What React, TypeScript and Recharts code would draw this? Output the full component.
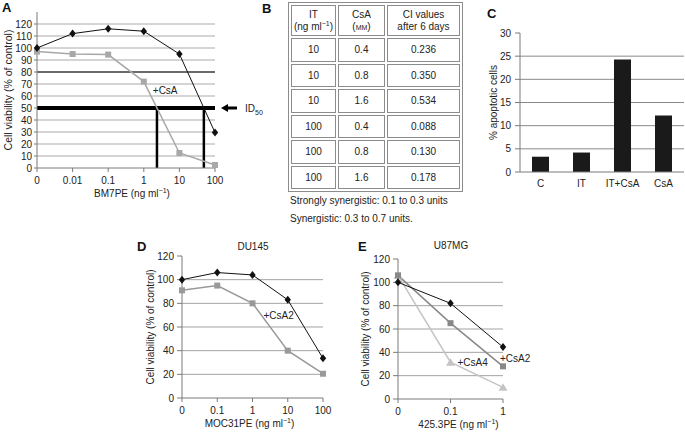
import React from 'react';
import {
  LineChart,
  Line,
  BarChart,
  Bar,
  XAxis,
  YAxis,
  CartesianGrid,
  ReferenceLine,
  LabelList,
} from 'recharts';

const FONT = '"Liberation Sans", Arial, Helvetica, sans-serif';
const INK = '#222';
const AXIS = '#7a7a7a';

// A: BM7PE, with and without CsA
const aDoses = ['0', '0.01', '0.1', '1', '10', '100'];
const aBM7PE = [100, 112, 116, 114, 95, 29.5];
const aBM7PECsA = [97, 95, 94.5, 72, 12.5, 2.5];
const aNotes = ['', '', '', '+CsA', '', ''];
const aTicks = [0, 10, 20, 30, 40, 50, 60, 70, 80, 90, 100, 110, 120];

// B: combination index table
const bIT = ['10', '10', '10', '100', '100', '100'];
const bCsA = ['0.4', '0.8', '1.6', '0.4', '0.8', '1.6'];
const bCI = ['0.236', '0.350', '0.534', '0.088', '0.130', '0.178'];

// C: apoptosis
const cGroups = ['C', 'IT', 'IT+CsA', 'CsA'];
const cApoptotic = [3.3, 4.2, 24.3, 12.2];
const cTicks = [0, 5, 10, 15, 20, 25, 30];

// D: DU145, MOC31PE
const dDoses = ['0', '0.1', '1', '10', '100'];
const dMOC31PE = [100, 106, 104, 83, 33.5];
const dMOC31PECsA2 = [91, 95, 80, 40, 20.5];
const dNotes = ['', '', '+CsA2', '', ''];

// E: U87MG, 425.3PE
const eDoses = ['0', '0.1', '1'];
const e4253PE = [100, 82, 44.5];
const e4253PECsA2 = [106, 65, 28];
const e4253PECsA4 = [106, 31.5, 10];
const eNotes2 = ['', '', '+CsA2'];
const eNotes4 = ['', '+CsA4', ''];

const vTicks = [0, 20, 40, 60, 80, 100, 120];

const aData = aDoses.map((d, i) => ({ i, dose: d, plain: aBM7PE[i], csa: aBM7PECsA[i], note: aNotes[i] }));
const cData = cGroups.map((g, i) => ({ group: g, value: cApoptotic[i] }));
const dData = dDoses.map((d, i) => ({ dose: d, plain: dMOC31PE[i], csa2: dMOC31PECsA2[i], note: dNotes[i] }));
const eData = eDoses.map((d, i) => ({
  dose: d,
  plain: e4253PE[i],
  csa2: e4253PECsA2[i],
  csa4: e4253PECsA4[i],
  note2: eNotes2[i],
  note4: eNotes4[i],
}));

// boundaries between the bar groups, for the little ticks under panel C
const cEdges = cGroups.slice(1).map((_, i) => i + 1);

// where a series first drops through a level, as a fractional index
function crossing(vals: number[], level: number) {
  for (let i = 0; i < vals.length - 1; i++) {
    if (vals[i] >= level && vals[i + 1] < level) {
      return i + (vals[i] - level) / (vals[i] - vals[i + 1]);
    }
  }
  return 0;
}

const diamondDot = (fill: string) => (p: any) => {
  const { cx, cy } = p;
  return (
    <path key={`d${p.index}`} d={`M${cx},${cy - 4}L${cx + 3.2},${cy}L${cx},${cy + 4}L${cx - 3.2},${cy}Z`} fill={fill} />
  );
};
const squareDot = (fill: string) => (p: any) => (
  <rect key={`s${p.index}`} x={p.cx - 3} y={p.cy - 3} width={6} height={6} fill={fill} />
);
const triangleDot = (fill: string) => (p: any) => {
  const { cx, cy } = p;
  return <path key={`t${p.index}`} d={`M${cx},${cy - 4}L${cx + 4.5},${cy + 3.5}L${cx - 4.5},${cy + 3.5}Z`} fill={fill} />;
};

const note = (dx: number, dy: number) => (p: any) =>
  p.value ? (
    <text key={`n${p.index}`} x={p.x + dx} y={p.y + dy} fontSize={10} fill={INK}>
      {p.value}
    </text>
  ) : null;

const UnitLabel = ({ viewBox, name, dx = 0 }: any) => {
  if (!viewBox) return null;
  const x = viewBox.x + viewBox.width / 2 + dx;
  const y = viewBox.y + 29;
  return (
    <text x={x} y={y} textAnchor="middle" fontSize={10} fill={INK}>
      {name} (ng ml
      <tspan dy={-4} fontSize={7}>
        −1
      </tspan>
      <tspan dy={4}>)</tspan>
    </text>
  );
};

const SideLabel = ({ viewBox, text, dx, size = 10 }: any) => {
  if (!viewBox) return null;
  const x = viewBox.x + dx;
  const y = viewBox.y + viewBox.height / 2;
  return (
    <text x={x} y={y} transform={`rotate(-90 ${x} ${y})`} textAnchor="middle" dominantBaseline="central" fontSize={size} fill={INK}>
      {text}
    </text>
  );
};

const Id50Mark = ({ viewBox }: any) => {
  if (!viewBox) return null;
  const ex = viewBox.x + viewBox.width;
  const y = viewBox.y;
  return (
    <g>
      <path d={`M${ex + 6},${y}L${ex + 13},${y - 4}L${ex + 13},${y + 4}Z`} fill="#000" />
      <rect x={ex + 12} y={y - 1.5} width={10} height={3} fill="#000" />
      <text x={ex + 30} y={y + 4} fontSize={10} fill={INK}>
        ID
        <tspan dy={3} fontSize={7}>
          50
        </tspan>
      </text>
    </g>
  );
};

const tick = { fill: INK, fontSize: 10 };

const letter = (t: string, left: number, top: number) => (
  <div style={{ position: 'absolute', left, top, fontSize: 13, fontWeight: 'bold', lineHeight: '13px', color: '#111' }}>{t}</div>
);

const cell: React.CSSProperties = {
  border: '1px solid #8c8c8c',
  padding: 0,
  textAlign: 'center',
  color: INK,
  boxSizing: 'border-box',
};

export default function App() {
  const aCrossCsA = crossing(aBM7PECsA, 50);
  const aCross = crossing(aBM7PE, 50);

  return (
    <div
      style={{
        position: 'absolute',
        left: 0,
        top: 0,
        width: 685,
        height: 432,
        overflow: 'hidden',
        background: '#fff',
        fontFamily: FONT,
      }}
    >
      {/* A */}
      <div style={{ position: 'absolute', left: 0, top: 0 }}>
        <LineChart width={270} height={205} data={aData} margin={{ top: 12, right: 55, bottom: 0, left: 0 }}>
          <CartesianGrid vertical={false} stroke="#a9a9a9" horizontalValues={aTicks.slice(1)} />
          <XAxis
            dataKey="i"
            type="number"
            domain={[0, 5]}
            ticks={[0, 1, 2, 3, 4, 5]}
            tickFormatter={(v) => aDoses[v]}
            height={37}
            stroke={AXIS}
            tick={tick}
            tickSize={4}
            tickMargin={5}
            label={{ content: (p: any) => <UnitLabel {...p} name="BM7PE" dx={6} /> }}
          />
          <YAxis
            domain={[0, 130]}
            ticks={aTicks}
            width={37}
            stroke={AXIS}
            tick={tick}
            tickSize={3}
            tickMargin={2}
            interval={0}
            label={{ content: (p: any) => <SideLabel {...p} text="Cell viability (% of control)" dx={8} size={10.5} /> }}
          />
          <ReferenceLine y={80} stroke="#000" strokeWidth={1.2} />
          <ReferenceLine y={50} stroke="#000" strokeWidth={4} label={{ content: (p: any) => <Id50Mark {...p} /> }} />
          <ReferenceLine segment={[{ x: aCrossCsA, y: 0 }, { x: aCrossCsA, y: 50 }]} stroke="#000" strokeWidth={2.5} />
          <ReferenceLine segment={[{ x: aCross, y: 0 }, { x: aCross, y: 50 }]} stroke="#000" strokeWidth={2.5} />
          <Line dataKey="csa" stroke="#a8a8a8" strokeWidth={1.5} dot={squareDot('#a8a8a8')} isAnimationActive={false}>
            <LabelList dataKey="note" content={note(9, 12)} />
          </Line>
          <Line dataKey="plain" stroke="#111" strokeWidth={1} dot={diamondDot('#111')} isAnimationActive={false} />
        </LineChart>
      </div>
      {letter('A', 2, 1)}

      {/* B */}
      {letter('B', 262, 2)}
      <table
        style={{
          position: 'absolute',
          left: 288,
          top: 2,
          width: 173,
          borderCollapse: 'separate',
          borderSpacing: 2,
          border: '1px solid #8c8c8c',
          fontSize: 10,
          fontFamily: FONT,
          tableLayout: 'fixed',
        }}
      >
        <colgroup>
          <col style={{ width: 45 }} />
          <col style={{ width: 47 }} />
          <col style={{ width: 73 }} />
        </colgroup>
        <tbody>
          <tr>
            <td style={{ ...cell, height: 31, lineHeight: '12px' }}>
              IT
              <br />
              (ng ml<sup style={{ fontSize: 7, lineHeight: 0 }}>−1</sup>)
            </td>
            <td style={{ ...cell, height: 31, lineHeight: '12px' }}>
              CsA
              <br />
              (<span style={{ fontVariant: 'small-caps', textTransform: 'lowercase' }}>mM</span>)
            </td>
            <td style={{ ...cell, height: 31, lineHeight: '12px' }}>
              CI values
              <br />
              after 6 days
            </td>
          </tr>
          {bIT.map((it, i) => (
            <tr key={i}>
              <td style={{ ...cell, height: 23.5 }}>{it}</td>
              <td style={{ ...cell, height: 23.5 }}>{bCsA[i]}</td>
              <td style={{ ...cell, height: 23.5 }}>{bCI[i]}</td>
            </tr>
          ))}
        </tbody>
      </table>
      <div style={{ position: 'absolute', left: 290, top: 195, fontSize: 10, lineHeight: '12px', color: INK, whiteSpace: 'nowrap' }}>
        Strongly synergistic: 0.1 to 0.3 units
      </div>
      <div style={{ position: 'absolute', left: 290, top: 213, fontSize: 10, lineHeight: '12px', color: INK, whiteSpace: 'nowrap' }}>
        Synergistic: 0.3 to 0.7 units.
      </div>

      {/* C */}
      <div style={{ position: 'absolute', left: 470, top: 0 }}>
        <BarChart width={215} height={195} data={cData} margin={{ top: 33, right: 1, bottom: 0, left: 0 }}>
          <CartesianGrid vertical={false} stroke="#8a8a8a" horizontalValues={cTicks.slice(1, -1)} />
          <XAxis
            xAxisId="edges"
            type="number"
            domain={[0, cGroups.length]}
            ticks={cEdges}
            height={0}
            axisLine={false}
            tickLine={{ stroke: AXIS }}
            tick={{ fontSize: 1, fill: 'none' }}
            tickFormatter={() => ''}
            tickSize={3}
          />
          <XAxis dataKey="group" height={23} stroke={AXIS} tick={tick} tickLine={false} />
          <YAxis
            domain={[0, 30]}
            ticks={cTicks}
            width={50}
            stroke={AXIS}
            tick={tick}
            tickSize={5}
            tickMargin={4}
            label={{ content: (p: any) => <SideLabel {...p} text="% apoptotic cells" dx={23} /> }}
          />
          <Bar dataKey="value" fill="#1a1a1a" barSize={17} isAnimationActive={false} />
        </BarChart>
      </div>
      {letter('C', 487, 7)}

      {/* D */}
      <div style={{ position: 'absolute', left: 135, top: 235 }}>
        <LineChart width={200} height={197} data={dData} margin={{ top: 21, right: 12, bottom: 0, left: 0 }}>
          <CartesianGrid vertical={false} stroke="#a3a3a3" horizontalValues={vTicks.slice(1, -1)} />
          <XAxis
            dataKey="dose"
            height={34}
            stroke={AXIS}
            tick={tick}
            tickSize={4}
            tickMargin={5}
            label={{ content: (p: any) => <UnitLabel {...p} name="MOC31PE" dx={-3} /> }}
          />
          <YAxis
            domain={[0, 120]}
            ticks={vTicks}
            width={47}
            stroke={AXIS}
            tick={tick}
            tickSize={5}
            tickMargin={3}
            label={{ content: (p: any) => <SideLabel {...p} text="Cell viability (% of control)" dx={15} /> }}
          />
          <Line dataKey="csa2" stroke="#999" strokeWidth={1.5} dot={squareDot('#999')} isAnimationActive={false}>
            <LabelList dataKey="note" content={note(11, 15.5)} />
          </Line>
          <Line dataKey="plain" stroke="#111" strokeWidth={1} dot={diamondDot('#111')} isAnimationActive={false} />
        </LineChart>
      </div>
      {letter('D', 137, 240)}
      <div style={{ position: 'absolute', left: 223, top: 241, width: 60, textAlign: 'center', fontSize: 10, lineHeight: '12px', color: INK }}>
        DU145
      </div>

      {/* E */}
      <div style={{ position: 'absolute', left: 350, top: 238 }}>
        <LineChart width={200} height={194} data={eData} margin={{ top: 21, right: 47, bottom: 0, left: 0 }}>
          <CartesianGrid vertical={false} stroke="#a3a3a3" horizontalValues={vTicks.slice(1, -1)} />
          <XAxis
            dataKey="dose"
            height={33}
            stroke={AXIS}
            tick={tick}
            tickSize={4}
            tickMargin={5}
            label={{ content: (p: any) => <UnitLabel {...p} name="425.3PE" dx={8} /> }}
          />
          <YAxis
            domain={[0, 120]}
            ticks={vTicks}
            width={48}
            stroke={AXIS}
            tick={tick}
            tickSize={5}
            tickMargin={3}
            label={{ content: (p: any) => <SideLabel {...p} text="Cell viability (% of control)" dx={15} /> }}
          />
          <Line dataKey="csa4" stroke="#c4c4c4" strokeWidth={1.5} dot={triangleDot('#c4c4c4')} isAnimationActive={false}>
            <LabelList dataKey="note4" content={note(7, 3.5)} />
          </Line>
          <Line dataKey="csa2" stroke="#888" strokeWidth={1.5} dot={squareDot('#888')} isAnimationActive={false}>
            <LabelList dataKey="note2" content={note(-3, -4.5)} />
          </Line>
          <Line dataKey="plain" stroke="#111" strokeWidth={1} dot={diamondDot('#111')} isAnimationActive={false} />
        </LineChart>
      </div>
      {letter('E', 358, 240)}
      <div style={{ position: 'absolute', left: 421, top: 240, width: 60, textAlign: 'center', fontSize: 10, lineHeight: '12px', color: INK }}>
        U87MG
      </div>
    </div>
  );
}
